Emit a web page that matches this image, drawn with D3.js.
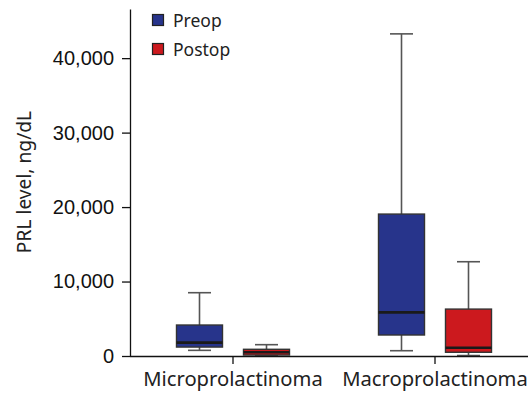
<!DOCTYPE html>
<html><head><meta charset="utf-8">
<script src="https://cdn.jsdelivr.net/npm/d3@7/dist/d3.min.js"></script>
<style>body{margin:0;background:#fff}svg{display:block}</style>
</head><body>
<svg id="chart" width="528" height="393"></svg>
<script>
const categories = ["Microprolactinoma", "Macroprolactinoma"];
const series = ["Preop", "Postop"];
const colors = ["#27348b", "#cc191e"];
// [whiskerLow, q1, median, q3, whiskerHigh]
const preopStats = [[760, 1200, 1790, 4160, 8500], [710, 2820, 5860, 19060, 43260]];
const postopStats = [[60, 130, 500, 900, 1520], [60, 500, 1110, 6300, 12660]];
const yTicks = [0, 10000, 20000, 30000, 40000];
const yLabel = "PRL level, ng/dL";

const svg = d3.select("#chart");
const y = d3.scaleLinear().domain([0, 46600]).range([356, 9]);
const x = d3.scaleBand().domain(categories).range([132, 536]);
const xs = d3.scalePoint().domain(series).range([-33.5, 33.5]);
const boxW = 46, capW = 23;

const statsBySeries = [preopStats, postopStats];
const data = [];
categories.forEach((c, ci) => series.forEach((s, si) => {
  const v = statsBySeries[si][ci];
  data.push({c, s, si, lo: v[0], q1: v[1], med: v[2], q3: v[3], hi: v[4]});
}));

const g = svg.append("g");
data.forEach(d => {
  const cx = x(d.c) + x.bandwidth() / 2 + xs(d.s);
  const gg = g.append("g");
  gg.append("line").attr("x1", cx).attr("x2", cx).attr("y1", y(d.hi)).attr("y2", y(d.q3))
    .attr("stroke", "#555").attr("stroke-width", 1.6);
  gg.append("line").attr("x1", cx).attr("x2", cx).attr("y1", y(d.q1)).attr("y2", y(d.lo))
    .attr("stroke", "#555").attr("stroke-width", 1.6);
  gg.append("line").attr("x1", cx - capW/2).attr("x2", cx + capW/2).attr("y1", y(d.hi)).attr("y2", y(d.hi))
    .attr("stroke", "#555").attr("stroke-width", 1.6);
  gg.append("line").attr("x1", cx - capW/2).attr("x2", cx + capW/2).attr("y1", y(d.lo)).attr("y2", y(d.lo))
    .attr("stroke", "#555").attr("stroke-width", 1.6);
  gg.append("rect").attr("x", cx - boxW/2).attr("width", boxW)
    .attr("y", y(d.q3)).attr("height", y(d.q1) - y(d.q3))
    .attr("fill", colors[d.si]).attr("stroke", "#333").attr("stroke-width", 1.4);
  gg.append("line").attr("x1", cx - boxW/2).attr("x2", cx + boxW/2).attr("y1", y(d.med)).attr("y2", y(d.med))
    .attr("stroke", "#1a1a1a").attr("stroke-width", 2.6);
});

// Y axis
const yAxis = svg.append("g").attr("transform", "translate(130,0)")
  .call(d3.axisLeft(y).tickValues(yTicks).tickFormat(d3.format(",")).tickSize(8).tickPadding(8).tickSizeOuter(0));
yAxis.select(".domain").attr("stroke", "#111").attr("stroke-width", 1.3);
yAxis.selectAll(".tick line").attr("stroke", "#111").attr("stroke-width", 1.3);
yAxis.selectAll("text").attr("font-family", "'Liberation Sans', Arial, sans-serif").attr("font-size", 20).attr("fill", "#111");

// X axis
const xAxis = svg.append("g").attr("transform", "translate(0,356)")
  .call(d3.axisBottom(x).tickSize(8).tickPadding(8).tickSizeOuter(0));
xAxis.select(".domain").attr("d", "M130,0.5H528").attr("stroke", "#111").attr("stroke-width", 1.3);
xAxis.selectAll(".tick line").attr("stroke", "#111").attr("stroke-width", 1.3);
xAxis.selectAll("text").attr("font-family", "'Noto Sans', sans-serif").attr("font-size", 20.2).attr("fill", "#222");

// Y label
svg.append("text").attr("transform", "translate(31,182) rotate(-90)")
  .attr("text-anchor", "middle").attr("font-family", "'Noto Sans', sans-serif")
  .attr("font-size", 19.2).attr("fill", "#222").text(yLabel);

// Legend
const leg = svg.append("g");
series.forEach((s, i) => {
  const ly = 14 + i * 29;
  leg.append("rect").attr("x", 152.5).attr("y", ly + 0.5).attr("width", 11).attr("height", 11)
    .attr("fill", colors[i]).attr("stroke", "#222").attr("stroke-width", 1.2);
  leg.append("text").attr("x", 173).attr("y", ly + 12.5).attr("font-family", "'Noto Sans', sans-serif")
    .attr("font-size", 17.5).attr("fill", "#222").text(s);
});
</script>
</body></html>
